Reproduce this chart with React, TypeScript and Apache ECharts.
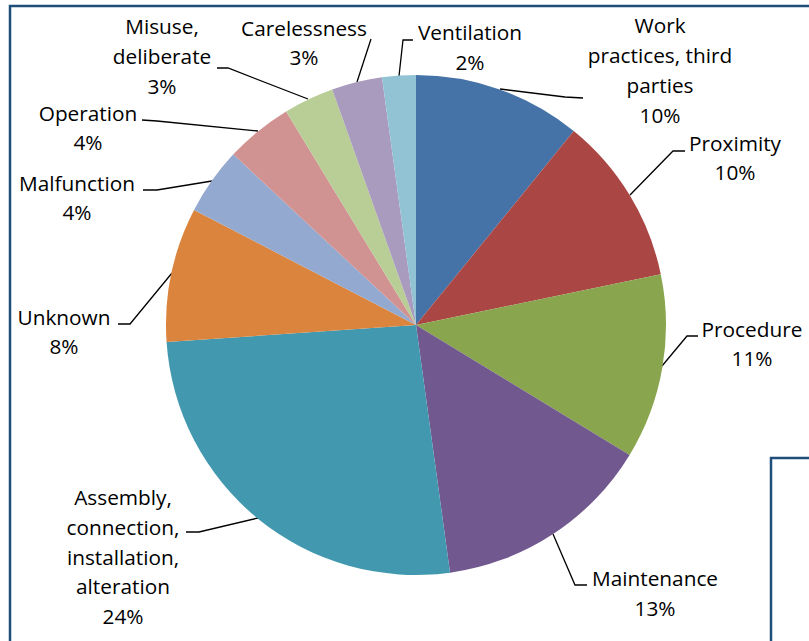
import React, { useEffect, useRef } from "react";
import * as echarts from "echarts";

const categories = [
  "Work\npractices, third\nparties",
  "Proximity",
  "Procedure",
  "Maintenance",
  "Assembly,\nconnection,\ninstallation,\nalteration",
  "Unknown",
  "Malfunction",
  "Operation",
  "Misuse,\ndeliberate",
  "Carelessness",
  "Ventilation",
];
const values = [10, 10, 11, 13, 24, 8, 4, 4, 3, 3, 2];
const colors = [
  "#4572A7", "#AA4643", "#89A54E", "#71588F", "#4198AF", "#DB843D",
  "#93A9CF", "#D19392", "#B9CD96", "#A99BBD", "#91C3D5",
];

// label layout (pixel positions of label centres and leader lines)
const labelX = [660, 735, 752, 655, 123, 64, 77, 88, 162, 304, 470];
const labelY = [70, 157.5, 343.5, 593, 556.5, 331.5, 197.5, 127.5, 56, 42.5, 47];
const leaders: number[][][] = [
  [[500, 89], [565, 97], [583, 98]],
  [[630, 195], [673, 151], [685, 151]],
  [[662, 366], [687, 336], [698, 336]],
  [[553, 534], [575, 585], [587, 585]],
  [[258, 518], [199, 532], [186, 532]],
  [[172, 273], [130, 324], [118, 324]],
  [[212, 181], [157, 190], [143, 190]],
  [[258, 131], [157, 121], [142, 120]],
  [[308, 99], [228, 68], [217, 68]],
  [[357, 82], [371, 39]],
  [[399, 76], [403, 40], [413, 40]],
];

export default function App() {
  const ref = useRef<HTMLDivElement>(null);
  useEffect(() => {
    if (!ref.current) return;
    const chart = echarts.init(ref.current, null, { renderer: "svg" });
    chart.setOption({
      animation: false,
      backgroundColor: "#ffffff",
      graphic: [
        {
          type: "rect",
          shape: { x: 10, y: 6, width: 1200, height: 1200 },
          style: { fill: "none", stroke: "#1F4E79", lineWidth: 2.5 },
          z: 0,
        },
        {
          type: "rect",
          shape: { x: 771, y: 458, width: 600, height: 600 },
          style: { fill: "#ffffff", stroke: "#1F4E79", lineWidth: 2.5 },
          z: 0,
        },
      ],
      series: [
        {
          type: "pie",
          center: [416, 325],
          radius: 250,
          startAngle: 90,
          clockwise: true,
          z: 3,
          data: categories.map((name, i) => ({
            name,
            value: values[i],
            itemStyle: { color: colors[i] },
          })),
          itemStyle: { borderWidth: 0 },
          label: {
            show: true,
            formatter: (p: any) => `${p.name}\n${p.value}%`,
            fontFamily: "Open Sans",
            fontSize: 20.8,
            lineHeight: 29.7,
            color: "#000000",
            align: "center",
            width: 200,
            overflow: "none",
          },
          labelLine: {
            show: true,
            lineStyle: { color: "#000000", width: 1.3 },
          },
          labelLayout: (params: any) => {
            const i = params.dataIndex;
            return {
              x: labelX[i],
              y: labelY[i],
              align: "center",
              verticalAlign: "middle",
              labelLinePoints: leaders[i],
            };
          },
          emphasis: { disabled: true },
        },
      ],
    });
    return () => chart.dispose();
  }, []);
  return (
    <div
      ref={ref}
      style={{ position: "fixed", left: 0, top: 0, width: 809, height: 641 }}
    />
  );
}
